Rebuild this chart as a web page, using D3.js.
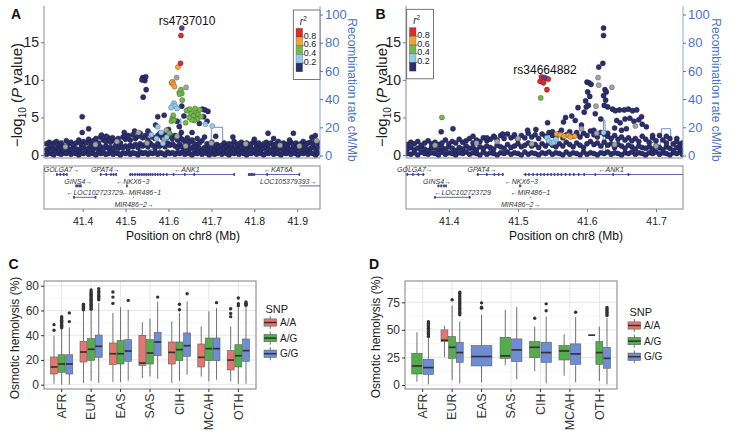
<!DOCTYPE html>
<html><head><meta charset="utf-8">
<script src="https://cdn.jsdelivr.net/npm/d3@7"></script>
<style>body{margin:0;background:#fff}svg{display:block;font-family:"Liberation Sans",Arial,Helvetica,sans-serif}</style>
</head><body><svg id="chart" width="732" height="435"></svg>
<script>
// ---------------- DATA ----------------
// LocusZoom panels: positions in kb offset from 41,000 kb (chr8), values = -log10(P)
// band entries: [kb, logp, logp, logp] (three SNPs around that position, r2 < 0.2)
const bandA = [[316,.1,.7,1.5],[322,.3,.9,1.7],[327,.2,.6,1.3],[333,0,.8,1.6],[339,.4,1,1.8],[345,.2,.7,1.4],[350,.1,.9,1.6],[356,.3,.6,1.2],[362,.2,1,1.9],[368,.4,.8,1.5],[373,.1,.7,1.7],[379,.3,1.1,1.4],[385,.2,.8,1.6],[391,0,.6,2],[396,.3,.9,1.5],[402,.2,1,1.8],[408,.4,.7,1.6],[414,.1,.9,2.1],[419,.3,1.2,1.7],[425,.2,.8,1.9],[431,0,1,2.2],[437,.4,.9,1.6],[442,.2,1.1,2.4],[448,.3,.8,2],[454,.1,1.2,1.8],[460,.2,.9,2.3],[465,.4,1,1.7],[471,.1,.8,2],[477,.3,1.3,1.9],[483,.2,.9,2.2],[488,0,1.1,1.6],[494,.3,1,2.4],[500,.2,1.2,2.1],[506,.4,.9,2.6],[511,.1,1.3,2],[517,.3,1.1,2.7],[523,.2,1.4,2.2],[529,0,1,2.5],[534,.4,1.5,2.9],[540,.2,1.2,2.3],[546,.3,1.4,2.6],[552,.1,1.1,2],[557,.3,1.6,2.8],[563,.2,1.3,2.4],[569,.4,1,2.2],[575,.1,1.5,2.6],[580,.3,1.2,2.9],[586,.2,1.4,2.3],[592,0,1.1,2.7],[598,.4,1.6,2.4],[603,.2,1.3,2.8],[609,.3,1.5,2.2],[615,.1,1.2,2.6],[621,.3,1,2],[626,.2,1.4,2.5],[632,.4,1.1,2.1],[638,.1,.9,1.8],[644,.3,1.2,2.3],[649,.2,.8,1.7],[655,0,1,2],[661,.3,.7,1.5],[667,.2,1.1,2.2],[672,.4,.9,1.6],[678,.1,.6,1.9],[684,.3,1,2.4],[690,.2,.8,1.5],[695,0,.5,1.3],[701,.3,.9,1.7],[707,.1,.6,1.2],[713,.2,.8,1.4],[718,.4,.5,1.1],[724,.1,.7,1.3],[730,.3,.9,1.6],[736,.2,.6,1.2],[741,0,.8,1.5],[747,.3,1,1.4],[753,.2,.7,1.8],[759,.4,.9,1.3],[764,.1,.6,1.5],[770,.3,1,1.7],[776,.2,.8,1.4],[782,0,.7,1.6],[787,.3,1.1,1.3],[793,.2,.9,1.5],[799,.4,.6,1.8],[805,.1,1,1.4],[810,.3,.8,1.6],[816,.2,.7,1.2],[822,0,.9,1.5],[828,.3,1.1,1.7],[833,.2,.8,1.4],[839,.4,.6,1.6],[845,.1,1,1.3],[851,.3,.7,1.5],[856,.2,.9,1.8],[862,0,.8,1.4],[868,.3,1,1.6],[874,.2,.6,1.3],[879,.4,.9,1.5],[885,.1,.7,1.7],[891,.3,1.1,1.4],[897,.2,.8,1.6],[902,0,.9,1.3],[908,.3,.7,1.5],[914,.2,1,1.8],[920,.4,.8,1.4],[925,.1,.6,1.6],[931,.3,.9,1.7],[937,.2,1.1,1.5],[943,0,.8,1.9],[948,.3,1,1.6]];
const A_navy = [[399,5.1],[399,3.0],[414,3.5],[444,2.65],[540,10.3],[543,10.1],[545,9.9],[538,10.0],[547,10.4],[548,8.7],[541,7.7],[575,5.1],[590,5.3],[521,3.2],[552,3.2],[631,6.5],[679,6.1],[685,6.0],[692,5.8],[682,5.1],[672,4.2],[690,4.5],[750,2.4],[832,2.9],[891,2.9],[934,2.35],[942,2.6],[845,2.2],[570,4.0],[600,3.4],[620,4.5],[587,2.8],[505,2.4],[497,3.0],[470,2.3],[455,2.5],[630,3.0],[655,3.0],[710,2.5],[800,2.1],[882,2.0],[636,5.2],[625,3.8]];
const A_gray = [[619,10.3],[610,9.7],[641,9.0],[625,8.3],[607,9.6],[664,5.5],[595,3.3],[530,3.0],[480,1.8],[780,1.5],[905,1.2],[945,1.9],[860,1.3],[430,1.4],[360,1.1],[700,1.6],[620,2.5],[590,2.1],[640,1.2],[550,1.6]];
const A_lblue = [[613,6.9],[610,6.6],[616,6.5],[606,6.3],[620,6.2],[686,4.1],[702,3.85],[575,3.75],[560,2.7],[587,1.55],[572,2.2],[583,3.0],[596,2.4]];
const A_green = [[629,8.7],[631,8.2],[626,8.1],[632,7.3],[609,4.9],[613,4.7],[607,4.5],[611,5.3],[645,6.0],[652,5.6],[658,5.2],[664,5.8],[669,5.4],[673,6.0],[667,4.8],[660,4.6],[654,4.7],[648,5.0],[676,5.1],[642,5.9],[640,4.3],[602,2.9],[612,4.6],[650,6.1],[662,6.2]];
const A_orange = [[622,11.7],[608,9.7],[611,9.4],[614,9.1]];
const A_red = [[629,15.9],[628,12.2]];
const A_lead = [[631,16.9]];
// recombination rate [kb, cM/Mb]
const recombA = [[305,1],[330,0.6],[360,1.2],[400,0.8],[440,1.5],[480,1],[500,2],[530,3],[555,4],[575,5],[590,2.5],[610,3],[626,3.5],[627,26],[629,26],[630,4],[650,2],[680,1.5],[699,2],[700,20],[726,20],[727,2],[760,1],[800,0.8],[855,1],[857,6],[866,6],[868,1],[900,0.7],[960,0.5]];

const bandB = [[340,.2,.8,1.4],[345,.1,1,1.7],[350,.3,.7,1.5],[355,0,.9,1.8],[360,.4,1.1,1.3],[365,.2,.8,1.6],[370,.1,.6,1.9],[375,.3,1,1.5],[380,.2,.9,1.7],[385,0,.7,1.4],[390,.4,1,1.6],[395,.1,.8,2],[400,.3,1.1,1.5],[405,.2,.9,1.8],[410,0,.6,1.6],[415,.3,1,2.1],[420,.2,.8,1.7],[425,.4,1.2,1.9],[430,.1,.9,2.2],[435,.3,1,1.6],[440,.2,.7,2],[445,0,1.1,1.8],[450,.4,.9,2.3],[455,.1,1.2,1.9],[460,.3,1,2.1],[465,.2,.8,2.5],[470,0,1.3,2],[475,.3,1.1,2.6],[480,.2,.9,2.2],[485,.4,1.4,2.8],[490,.1,1,2.3],[495,.3,1.2,2.5],[500,.2,1.5,2.1],[505,0,1.1,2.6],[510,.4,1.3,2.3],[515,.1,1.6,2.9],[520,.3,1.2,2.4],[525,.2,1.4,2.7],[530,0,1,2.2],[535,.3,1.5,2.8],[540,.2,1.2,2.5],[545,.4,1.6,3],[550,.1,1.3,2.6],[555,.3,1.1,2.4],[560,.2,1.5,2.9],[565,0,1.2,2.3],[570,.4,1.7,2.7],[575,.1,1.4,3.1],[580,.3,1.1,2.5],[585,.2,1.6,2.8],[590,0,1.3,2.4],[595,.4,1,2.9],[600,.1,1.5,2.6],[605,.3,1.8,3.2],[610,.2,1.4,2.7],[615,0,1.6,2.4],[620,.3,1.2,3],[625,.2,1.7,2.8],[630,.4,1.3,2.5],[635,.1,1.5,2.2],[640,.3,1,2.6],[645,.2,1.4,2.1],[650,0,1.2,2.4],[655,.3,.9,2],[660,.2,1.3,2.3],[665,.4,1.1,1.9],[670,.1,.8,2.2],[675,.3,1.2,1.8],[680,.2,1,2.5],[685,0,.9,2.1],[690,.3,1.1,1.7],[695,.2,.8,2.3],[700,.4,1.2,1.9],[705,.1,1,2.6],[710,.3,.7,2],[715,.2,1.1,1.6],[720,0,.9,2.2],[725,.3,.6,1.5],[730,.2,1,1.8],[735,.4,.8,1.4],[738,.1,.7,1.6]];
const B_navy = [[389,3.1],[406,3.5],[435,2.5],[526,3.4],[514,3.3],[543,4.3],[569,5.0],[566,4.4],[587,6.3],[578,5.2],[583,4.6],[624,16.9],[624,15.9],[623,12.2],[617,11.7],[600,9.7],[603,9.6],[606,9.4],[601,8.4],[604,7.8],[598,7.2],[602,6.6],[599,6.4],[626,8.7],[628,8.4],[624,7.9],[627,7.3],[625,6.6],[630,6.4],[637,6.1],[641,5.9],[647,6.0],[654,6.0],[660,6.1],[666,5.9],[672,6.0],[643,4.6],[648,4.3],[655,4.8],[662,4.9],[668,4.5],[675,4.7],[640,3.6],[680,4.1],[686,3.75],[695,2.6],[592,4.0],[585,3.0],[563,3.3],[550,3.1],[495,2.7],[478,2.8],[466,2.4],[455,2.3],[630,2.9],[650,3.3],[657,3.5],[679,5.1],[715,2.5],[730,2.2],[610,3.3],[620,4.8],[612,5.5],[596,5.7]];
const B_gray = [[616,10.3],[617,9.3],[636,9.0],[613,6.5],[592,3.5],[670,3.85],[614,2.9],[470,1.8],[500,2.2],[520,1.5],[640,1.4],[700,1.2],[380,1.3],[440,1.6]];
const B_lblue = [[542,2.3],[545,1.9],[549,1.6],[552,1.7],[624,3.0],[555,2.1]];
const B_green = [[390,5.0],[533,7.6]];
const B_orange = [[556,2.8],[561,2.7],[567,2.5],[573,2.6],[582,2.5],[576,2.4]];
const B_red = [[534,10.4],[541,10.2],[532,9.8],[544,10.1],[537,9.6],[542,8.7]];
const B_lead = [[538,10.3]];
const recombB = [[330,1],[380,0.8],[420,1.2],[460,1],[500,1.5],[540,2],[580,1.5],[610,2],[623,2.5],[624,25],[626,25],[627,3],[660,1.5],[690,2],[694,9],[697,10],[699,3],[703,7],[705,2],[708,19],[721,19],[722,7],[730,6],[735,3],[745,2]];

// genes: [label, start Mb, end Mb, row, label centre Mb, exons Mb]
const genesA = [
  ["GOLGA7→",41.338,41.365,0,41.351,[41.340,41.348,41.356,41.363]],
  ["GPAT4→",41.440,41.480,0,41.453,[41.442,41.455,41.466,41.472,41.478]],
  ["←ANK1",41.508,41.755,0,41.643,[41.511,41.516,41.522,41.528,41.533,41.538,41.543,41.548,41.553,41.558,41.563,41.569,41.575,41.581,41.588,41.596,41.612,41.638,41.66,41.753]],
  ["←KAT6A",41.786,41.906,0,41.856,[41.787,41.790,41.793,41.796,41.80,41.83,41.905]],
  ["GINS4→",41.383,41.397,1,41.390,[41.385,41.389,41.393,41.396]],
  ["←NKX6−3",41.502,41.506,1,41.517,[41.503]],
  ["LOC105379393→",41.905,41.96,1,41.879,[]],
  ["←LOC102723729",41.378,41.432,2,41.428,[41.380,41.430]],
  ["←MIR486−1",41.517,41.519,2,41.537,[]],
  ["MIR486−2→",41.517,41.519,3,41.520,[]]
];
const genesB = [
  ["GOLGA7→",41.338,41.365,0,41.351,[41.340,41.348,41.356,41.363]],
  ["GPAT4→",41.440,41.480,0,41.448,[41.442,41.455,41.466,41.472,41.478]],
  ["←ANK1",41.508,41.755,0,41.635,[41.511,41.516,41.522,41.528,41.533,41.538,41.543,41.548,41.553,41.558,41.563,41.569,41.575,41.581,41.588,41.596,41.612,41.638,41.66]],
  ["GINS4→",41.383,41.397,1,41.383,[41.385,41.389,41.393,41.396]],
  ["←NKX6−3",41.502,41.506,1,41.505,[41.503]],
  ["←LOC102723729",41.378,41.432,2,41.420,[41.380,41.430]],
  ["←MIR486−1",41.517,41.519,2,41.518,[]],
  ["MIR486−2→",41.517,41.519,3,41.504,[]]
];
const ticksA = [41.4,41.5,41.6,41.7,41.8,41.9];
const ticksB = [41.4,41.5,41.6,41.7];
const logpTicks = [0,5,10,15];
const recTicks = [0,20,40,60,80,100];
const r2Labels = ["0.8","0.6","0.4","0.2"];

// Box plots: per category [lower whisker, Q1, median, Q3, upper whisker]
const cats = ["AFR","EUR","EAS","SAS","CIH","MCAH","OTH"];
const snps = ["A/A","A/G","G/G"];
const C_AA = [[0.8,8.6,14.3,22.4,39.6],[1.3,18.3,26.4,35,59.8],[2.2,16.2,25,33.7,58],[5.4,15.6,17.5,39.9,50.4],[1.3,16.7,26.1,34.5,51.2],[6.5,14.3,22.1,32.9,47.1],[2.7,11.9,19.9,27.5,47.1]];
const C_AA_out = [[44,48.5],[60.6,61.5,62.3,63.2,64,65],[65.7,70.8,74.9],[],[],[],[55,57.6,61.4]];
const C_AG = [[0,10,16.7,24.2,45],[3.2,19.7,28.6,37.2,60],[2.2,16.7,25,35.6,62.5],[6.7,16.7,25.6,36.4,53.3],[3.2,19.4,28.3,34.5,57.9],[2.7,19.4,29.1,37.7,59.3],[0.8,14.3,23.4,32.3,62]];
const C_AG_out = [[46,47,48,49,50,51,52,53,54,55],[61,62,63,64,65,66,67,68,69,70,71,72,73,74,75,76.5],[],[],[60.6,65],[],[63.8,65.4,70]];
const C_GG = [[0,8.6,16.7,24.2,46.3],[1.3,22.1,31,40.1,66],[3.2,18.9,27.2,36.4,60.6],[4.6,23.4,34.5,42.3,67],[8,22.9,31.5,41.8,67.3],[4,19.4,29.1,37.7,62],[0.8,18.9,27.5,36.9,63.3]];
const C_GG_out = [[51,58],[68.7,70,71.3,72.5,74,75.5,77.6],[68.1],[70.8],[73.5],[66.3],[64.1,65,65.8,66.8]];
const D_AA = [null,[25.2,39.4,40.6,50,53.6],null,null,null,null,[45.2,45.2,45.2,45.2,45.2]];
const D_AA_out = [[],[],[],[],[],[],[]];
const D_AG = [[3,10,17.3,28.8,47.9],[4.5,24.2,34.2,43.9,72.1],null,[18.2,24.2,26.4,43.3,68.2],[12.7,24.8,34.2,39.4,53],[8.5,22.7,30.9,35.8,46],[3.6,18.8,29.4,39.4,53]];
const D_AG_out = [[],[77.3],[],[],[60.6],[],[]];
const D_GG = [[0.6,9.7,15.8,23.3,42.4],[1.5,20.6,29.4,38.8,57.6],[2.4,17.3,25.8,35.8,63.6],[5.2,21.2,31.8,41.8,70.6],[1.5,20.6,29.4,38.8,62.1],[2.4,18.8,28.2,37.3,61.5],[0.6,15.2,24.2,34.2,60.6]];
const D_GG_out = [[44,45.5,47,48.5,50,51.5,53,54.5,56,57.5],[63.6,65,66.5,68,69.5,71,72.5,74,75.5,77,78.5,80,81.5,83,84.2],[69.7,70.6,74.5],[],[67.3,73.6],[66],[63,64.5,66,67.5,69,70.3]];
const C_ticks = [0,20,40,60,80];
const D_ticks = [0,25,50,75];

// ---------------- STYLE ----------------
const COL = {navy:"#2C2E6E", gray:"#A3A3A3", lblue:"#93CBEE", green:"#72B84B", orange:"#F3A23A", red:"#DD2C2A", lead:"#5A3E9E"};
const r2Colors = [COL.red, COL.orange, COL.green, COL.lblue, COL.navy];
const snpColors = ["#E5766E","#52AE4B","#6D8ED5"];
const BLUE = "#4A74C4";
const svg = d3.select("#chart");
const defs = svg.append("defs");

function letter(t, x, y){
  svg.append("text").attr("x",x).attr("y",y).attr("font-size",14).attr("font-weight","bold").attr("fill","#111").text(t);
}

function drawLocus(o){
  const x = d3.scaleLinear().domain(o.xDomain).range([o.x0,o.x1]);
  const y = d3.scaleLinear().domain([0,18.7]).range([155,14.5]);
  const yr = d3.scaleLinear().domain([0,100]).range([155.5,14.5]);
  const mb = kb => 41 + kb/1000;
  const g = svg.append("g");
  const cid = "clip"+o.id;
  defs.append("clipPath").attr("id",cid).append("rect").attr("x",o.x0).attr("y",4).attr("width",o.x1-o.x0).attr("height",155);
  const cg = g.append("g").attr("clip-path",`url(#${cid})`);
  cg.append("path").datum(o.recomb).attr("fill","none").attr("stroke","#6F8FD8").attr("stroke-width",1)
    .attr("d", d3.line().x(d=>x(mb(d[0]))).y(d=>yr(d[1])));
  const pts = [];
  o.band.forEach(d => d.slice(1).forEach(v => pts.push([d[0], v, COL.navy])));
  o.groups.forEach(([arr,c]) => arr.forEach(d => pts.push([d[0], d[1], c])));
  cg.selectAll("circle").data(pts).join("circle")
    .attr("cx", d=>x(mb(d[0]))).attr("cy", d=>y(d[1])).attr("r",2.55)
    .attr("fill", d=>d[2]).attr("stroke", d=>d3.color(d[2]).darker(1.6)).attr("stroke-width",0.45);
  // frame
  g.append("line").attr("x1",o.x0).attr("x2",o.x0).attr("y1",6).attr("y2",158).attr("stroke","#8c8c8c");
  g.append("line").attr("x1",o.x0).attr("x2",o.x1).attr("y1",158).attr("y2",158).attr("stroke","#8c8c8c");
  g.append("line").attr("x1",o.x1).attr("x2",o.x1).attr("y1",6).attr("y2",158).attr("stroke","#8FA6DA");
  // left axis
  const la = g.append("g").attr("transform",`translate(${o.x0},0)`).call(d3.axisLeft(y).tickValues(logpTicks).tickSize(3).tickPadding(2));
  la.select(".domain").remove();
  la.selectAll("line").attr("stroke","#777");
  la.selectAll("text").attr("font-size",14).attr("fill","#222").attr("font-family",null);
  // right axis
  const ra = g.append("g").attr("transform",`translate(${o.x1},0)`).call(d3.axisRight(yr).tickValues(recTicks).tickSize(3).tickPadding(2));
  ra.select(".domain").remove();
  ra.selectAll("line").attr("stroke",BLUE);
  ra.selectAll("text").attr("font-size",13).attr("fill",BLUE).attr("font-family",null);
  // titles
  const lt = g.append("text").attr("transform",`translate(${o.ltx},95) rotate(-90)`).attr("text-anchor","middle").attr("dy","0.35em").attr("font-size",15).attr("fill","#222");
  lt.append("tspan").text("−log");
  lt.append("tspan").attr("font-size",10).attr("dy",4).text("10");
  lt.append("tspan").attr("dy",-4).text(" (");
  lt.append("tspan").attr("font-style","italic").text("P");
  lt.append("tspan").text(" value)");
  g.append("text").attr("transform",`translate(${o.rtx},90) rotate(90)`).attr("text-anchor","middle").attr("dy","0.35em").attr("font-size",12).attr("fill",BLUE).text("Recombination rate cM/Mb");
  // lead label
  g.append("text").attr("x",o.leadX).attr("y",o.leadY).attr("text-anchor","middle").attr("font-size",12).attr("fill","#111").text(o.leadLabel);
  // r2 legend
  const lg = g.append("g").attr("transform",`translate(${o.lx},${o.ly})`);
  lg.append("rect").attr("width",26.7).attr("height",69.5).attr("fill","#fff").attr("stroke","#555").attr("stroke-width",0.8);
  const r2t = lg.append("text").attr("x",6.5).attr("y",15).attr("font-size",10).attr("fill","#222");
  r2t.append("tspan").attr("font-style","italic").text("r");
  r2t.append("tspan").attr("font-size",6.5).attr("dy",-4).text("2");
  r2Colors.forEach((c,i)=>{
    lg.append("rect").attr("x",2.7).attr("y",18.3+i*8.7).attr("width",6.6).attr("height",8.7).attr("fill",c).attr("stroke","#444").attr("stroke-width",0.3);
  });
  r2Labels.forEach((t,i)=>{
    const yy = 18.3+(i+1)*8.7;
    lg.append("line").attr("x1",9.3).attr("x2",11).attr("y1",yy).attr("y2",yy).attr("stroke","#333").attr("stroke-width",0.6);
    lg.append("text").attr("x",10.5).attr("y",yy-1.5).attr("dy","0.35em").attr("font-size",9).attr("fill","#222").text(t);
  });
  // gene track
  const gy0=166, gy1=209;
  g.append("rect").attr("x",o.x0).attr("y",gy0).attr("width",o.x1-o.x0).attr("height",gy1-gy0).attr("fill","none").attr("stroke","#8c8c8c");
  const gid = "gclip"+o.id;
  defs.append("clipPath").attr("id",gid).append("rect").attr("x",o.x0).attr("y",gy0).attr("width",o.x1-o.x0).attr("height",gy1-gy0);
  const gg = g.append("g").attr("clip-path",`url(#${gid})`);
  o.genes.forEach(([lab,s,e,row,lc,ex])=>{
    const ly = 172.3 + row*11.4;
    gg.append("line").attr("x1",x(s)).attr("x2",Math.max(x(e),x(s)+1)).attr("y1",ly+2.2).attr("y2",ly+2.2).attr("stroke","#3A3F95").attr("stroke-width",0.8);
    ex.forEach(v=>gg.append("rect").attr("x",x(v)-0.8).attr("y",ly+0.8).attr("width",1.6).attr("height",2.8).attr("fill","#3A3F95"));
    g.append("text").attr("x",x(lc)).attr("y",ly).attr("text-anchor","middle").attr("font-size",7).attr("font-style","italic").attr("fill","#333").text(lab);
  });
  const xa = g.append("g").attr("transform",`translate(0,${gy1})`).call(d3.axisBottom(x).tickValues(o.ticks).tickFormat(d3.format(".1f")).tickSize(3).tickPadding(6));
  xa.select(".domain").remove();
  xa.selectAll("line").attr("stroke","#777");
  xa.selectAll("text").attr("font-size",10.5).attr("fill","#222").attr("font-family",null);
  g.append("text").attr("x",o.xtx).attr("y",240).attr("text-anchor","middle").attr("font-size",12).attr("fill","#111").text("Position on chr8 (Mb)");
}

drawLocus({id:"A", xDomain:[41.31,41.953], x0:44, x1:320, band:bandA,
  groups:[[A_navy,COL.navy],[A_gray,COL.gray],[A_lblue,COL.lblue],[A_green,COL.green],[A_orange,COL.orange],[A_red,COL.red],[A_lead,COL.lead]],
  recomb:recombA, genes:genesA, ticks:ticksA, ltx:17, rtx:352, leadLabel:"rs4737010", leadX:187, leadY:24.5, lx:293.3, ly:10, xtx:183});
drawLocus({id:"B", xDomain:[41.338,41.739], x0:406, x1:683, band:bandB,
  groups:[[B_navy,COL.navy],[B_gray,COL.gray],[B_lblue,COL.lblue],[B_green,COL.green],[B_orange,COL.orange],[B_red,COL.red],[B_lead,COL.lead]],
  recomb:recombB, genes:genesB, ticks:ticksB, ltx:382, rtx:716, leadLabel:"rs34664882", leadX:545, leadY:74, lx:406.7, ly:9.3, xtx:566});

function drawBox(o){
  const x = d3.scalePoint().domain(cats).range([o.x0,o.x1]).padding(0.6);
  const y = d3.scaleLinear().domain(o.yDomain).range([o.y1,o.y0]);
  const g = svg.append("g");
  const step = x.step();
  g.append("rect").attr("x",o.x0).attr("y",o.y0).attr("width",o.x1-o.x0).attr("height",o.y1-o.y0).attr("fill","#fff");
  o.minor.forEach(v=>g.append("line").attr("x1",o.x0).attr("x2",o.x1).attr("y1",y(v)).attr("y2",y(v)).attr("stroke","#F2F2F2").attr("stroke-width",0.6));
  o.ticks.forEach(v=>g.append("line").attr("x1",o.x0).attr("x2",o.x1).attr("y1",y(v)).attr("y2",y(v)).attr("stroke","#E4E4E4").attr("stroke-width",0.9));
  cats.forEach(c=>g.append("line").attr("x1",x(c)).attr("x2",x(c)).attr("y1",o.y0).attr("y2",o.y1).attr("stroke","#E4E4E4").attr("stroke-width",0.9));
  const total = 0.78*step;
  cats.forEach((c,i)=>{
    const present = o.series.map((s,k)=>({s,k})).filter(d=>d.s.stats[i]);
    const n = present.length, slot = total/n, bw = slot*0.9;
    present.forEach((d,j)=>{
      const [lo,q1,md,q3,hi] = d.s.stats[i];
      const cx = x(c) - total/2 + slot*(j+0.5);
      g.append("line").attr("x1",cx).attr("x2",cx).attr("y1",y(hi)).attr("y2",y(q3)).attr("stroke","#4D4D4D").attr("stroke-width",0.8);
      g.append("line").attr("x1",cx).attr("x2",cx).attr("y1",y(q1)).attr("y2",y(lo)).attr("stroke","#4D4D4D").attr("stroke-width",0.8);
      g.append("rect").attr("x",cx-bw/2).attr("y",y(q3)).attr("width",bw).attr("height",Math.max(0,y(q1)-y(q3))).attr("fill",snpColors[d.k]).attr("stroke","#5a5a5a").attr("stroke-width",0.6);
      g.append("line").attr("x1",cx-bw/2).attr("x2",cx+bw/2).attr("y1",y(md)).attr("y2",y(md)).attr("stroke","#333").attr("stroke-width",1.7);
      d.s.out[i].forEach(v=>g.append("circle").attr("cx",cx).attr("cy",y(v)).attr("r",1.7).attr("fill","#333"));
    });
  });
  g.append("rect").attr("x",o.x0).attr("y",o.y0).attr("width",o.x1-o.x0).attr("height",o.y1-o.y0).attr("fill","none").attr("stroke","#7F7F7F").attr("stroke-width",1);
  const ya = g.append("g").attr("transform",`translate(${o.x0},0)`).call(d3.axisLeft(y).tickValues(o.ticks).tickSize(3).tickPadding(2));
  ya.select(".domain").remove();
  ya.selectAll("line").attr("stroke","#333");
  ya.selectAll("text").attr("font-size",12).attr("fill","#333").attr("font-family",null);
  cats.forEach(c=>{
    g.append("line").attr("x1",x(c)).attr("x2",x(c)).attr("y1",o.y1).attr("y2",o.y1+3).attr("stroke","#333");
    g.append("text").attr("transform",`translate(${x(c)},${o.y1+4.5}) rotate(-90)`).attr("text-anchor","end").attr("dy","0.35em").attr("font-size",12.5).attr("fill","#333").text(c);
  });
  g.append("text").attr("transform",`translate(${o.ytx},${o.yty}) rotate(-90)`).attr("text-anchor","middle").attr("dy","0.35em").attr("font-size",12).attr("fill","#222").text("Osmotic hemolysis (%)");
  // legend
  g.append("text").attr("x",o.lx+1.5).attr("y",o.ly).attr("font-size",11).attr("fill","#222").text("SNP");
  snps.forEach((s,k)=>{
    const cy = o.ly + 10 + k*15.6, kx = o.lx, kw = 12.5, cxk = kx+kw/2;
    g.append("line").attr("x1",cxk).attr("x2",cxk).attr("y1",cy-6.5).attr("y2",cy+6.5).attr("stroke","#4D4D4D").attr("stroke-width",0.8);
    g.append("rect").attr("x",kx).attr("y",cy-3.6).attr("width",kw).attr("height",7.2).attr("fill",snpColors[k]).attr("stroke","#5a5a5a").attr("stroke-width",0.6);
    g.append("line").attr("x1",kx).attr("x2",kx+kw).attr("y1",cy).attr("y2",cy).attr("stroke","#333").attr("stroke-width",1.5);
    g.append("text").attr("x",kx+16).attr("y",cy).attr("dy","0.35em").attr("font-size",10).attr("fill","#222").text(s);
  });
}

drawBox({x0:44, x1:256, y0:281, y1:389, yDomain:[-3.5,83.8], ticks:C_ticks, minor:[10,30,50,70],
  series:[{stats:C_AA,out:C_AA_out},{stats:C_AG,out:C_AG_out},{stats:C_GG,out:C_GG_out}],
  ytx:15, yty:338, lx:264, ly:312.5});
drawBox({x0:405, x1:617, y0:281, y1:389, yDomain:[-3.6,94.3], ticks:D_ticks, minor:[12.5,37.5,62.5,87.5],
  series:[{stats:D_AA,out:D_AA_out},{stats:D_AG,out:D_AG_out},{stats:D_GG,out:D_GG_out}],
  ytx:376, yty:337, lx:628, ly:315.5});

letter("A",11,18.5); letter("B",375.5,18.5); letter("C",8.5,268.5); letter("D",369,268.5);
</script></body></html>
